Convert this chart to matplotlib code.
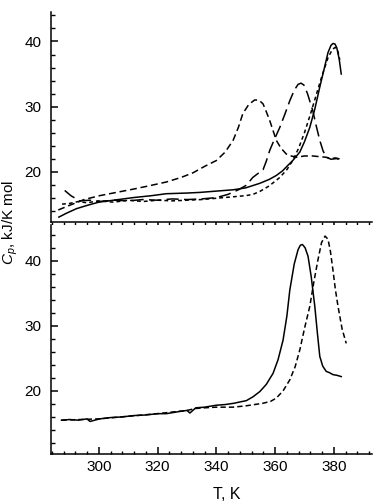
import matplotlib
matplotlib.use('Agg')
from matplotlib import pyplot as plt
from matplotlib.ticker import MultipleLocator

# top panel, solid curve
t_top_solid = [286.4, 289, 292.4, 296, 300, 305, 311.7, 318, 323, 330, 334.4, 340, 345.7, 350,
               354.8, 358, 360.4, 362.5, 364, 366, 368.4, 370, 371.8, 373.5, 375.2, 376.8, 378,
               379, 379.7, 380.4, 381, 381.8, 382.5]
cp_top_solid = [13.0, 13.6, 14.3, 14.8, 15.3, 15.6, 16.0, 16.3, 16.6, 16.7, 16.8, 17.0, 17.2, 17.5,
                18.2, 18.8, 19.4, 20.1, 20.8, 21.7, 23.0, 24.6, 26.8, 29.6, 33.0, 36.0, 38.3,
                39.4, 39.7, 39.6, 39.0, 37.3, 35.0]

# top panel, short dashes (follows the solid one up to the big peak)
t_top_short = [287.5, 290, 293, 296, 300, 305, 310, 315, 320, 325, 330, 335, 340, 345, 350, 352.5,
               355, 358, 361.6, 364, 366, 368, 370, 372, 374, 376, 378, 379.5, 380.5, 381.3, 382]
cp_top_short = [15.0, 15.1, 15.4, 15.2, 15.5, 15.3, 15.6, 15.4, 15.6, 15.5, 15.6, 15.7, 15.9, 16.1,
                16.3, 16.5, 17.0, 17.8, 19.1, 20.3, 21.7, 23.6, 26.0, 28.8, 31.8, 34.8, 37.5,
                38.8, 39.1, 38.6, 37.2]

# top panel, medium dashes (peak near 353 K)
t_top_mid = [286.2, 290, 295, 300.3, 306, 311.7, 317, 323, 328, 332, 336, 340, 343, 345.7, 347.5,
             349, 351, 353, 354.5, 355.9, 357, 358.2, 359.3, 360.4, 362, 363.8, 365.5, 367.2, 370,
             372.8, 375, 377.4, 379, 380.5, 382.5]
cp_top_mid = [14.1, 14.8, 15.7, 16.3, 16.8, 17.3, 17.8, 18.4, 19.1, 19.8, 20.8, 21.7, 23.0, 24.8,
              26.8, 28.9, 30.3, 31.0, 31.0, 30.4, 29.2, 27.8, 26.3, 24.8, 23.6, 22.7, 22.4, 22.2,
              22.4, 22.4, 22.3, 22.2, 22.0, 22.1, 21.9]

# top panel, long dashes (peak near 368 K)
t_top_long = [288.4, 290.5, 293.5, 297, 300, 305, 310, 315, 320, 325, 330, 335, 340, 344, 347.5,
              350.2, 352.4, 355.9, 357, 358.2, 359.8, 361.6, 363.3, 365, 366.5, 367.8, 368.8,
              369.8, 371, 372.8, 374, 375.2, 376.3, 377.4, 379, 381, 382.5]
cp_top_long = [17.1, 16.3, 15.5, 15.6, 15.4, 15.6, 15.5, 15.7, 15.6, 15.8, 15.7, 15.8, 16.0, 16.5,
               17.2, 17.9, 19.1, 20.3, 21.6, 23.3, 25.0, 26.8, 28.8, 30.9, 32.5, 33.4, 33.6, 33.3,
               32.0, 29.4, 27.0, 24.8, 23.2, 22.2, 21.9, 22.0, 21.7]

# bottom panel, solid curve
t_bot_solid = [287.3, 290, 293, 296, 297, 300.3, 304, 308, 311.7, 316, 320, 323, 327, 330, 331,
               333, 336, 340, 343, 346, 348, 350.2, 352.5, 354.8, 357, 359.3, 361, 362.7, 364, 365,
               366.5, 367.8, 368.6, 369.3, 370.2, 371.2, 372.3, 373.5, 374.4, 375.2, 376.2, 377.4,
               378.5, 379.7, 381, 382.5]
cp_bot_solid = [15.5, 15.6, 15.5, 15.7, 15.3, 15.7, 15.9, 16.0, 16.2, 16.3, 16.5, 16.5, 16.8, 17.0,
                16.6, 17.4, 17.5, 17.8, 17.9, 18.1, 18.3, 18.5, 19.1, 19.9, 21.0, 22.7, 24.8, 27.8,
                31.5, 35.5, 39.5, 41.7, 42.4, 42.5, 42.0, 40.7, 37.5, 33.0, 28.8, 25.3, 23.8, 23.0,
                22.8, 22.5, 22.4, 22.2]

# bottom panel, dashed curve
t_bot_dash = [287.3, 300, 320, 330, 333, 336, 340, 345.7, 350, 355.9, 358.5, 360.4, 362.7, 365,
              366.8, 368.4, 370, 371.8, 373.2, 374.6, 375.8, 377.0, 378.0, 378.8, 379.7, 380.5,
              381.4, 382.8, 384.2]
cp_bot_dash = [15.5, 15.7, 16.5, 17.0, 17.3, 17.4, 17.5, 17.5, 17.7, 18.1, 18.4, 18.9, 20.0, 21.7,
               23.7, 26.3, 29.6, 33.0, 36.8, 40.2, 42.8, 43.8, 43.3, 41.5, 38.5, 35.6, 33.0, 29.5,
               27.3]


def style_axes(ax, ylim, xdir):
    ax.set_xlim(283.7, 393)
    ax.set_ylim(*ylim)
    ax.spines['top'].set_visible(False)
    ax.spines['right'].set_visible(False)
    for s in ('left', 'bottom'):
        ax.spines[s].set_linewidth(1.1)
    ax.xaxis.set_major_locator(MultipleLocator(20))
    ax.xaxis.set_minor_locator(MultipleLocator(4))
    ax.yaxis.set_major_locator(MultipleLocator(10))
    ax.yaxis.set_minor_locator(MultipleLocator(2))
    ax.set_yticks([20, 30, 40])
    ax.tick_params(axis='y', which='major', direction='in', length=5, width=1.1,
                   labelsize=11, pad=7)
    ax.tick_params(axis='y', which='minor', direction='in', length=3, width=1)
    ax.tick_params(axis='x', which='major', direction=xdir, length=5, width=1.1,
                   labelsize=11, pad=4)
    ax.tick_params(axis='x', which='minor', direction=xdir, length=2.5, width=1)


def main():
    plt.rcParams['font.family'] = ['Liberation Sans', 'DejaVu Sans']
    plt.rcParams['mathtext.fontset'] = 'custom'
    plt.rcParams['mathtext.it'] = 'Liberation Sans:italic'
    plt.rcParams['mathtext.rm'] = 'Liberation Sans'

    fig = plt.figure(figsize=(3.77, 5.03), dpi=100)
    ax1 = fig.add_axes([0.135, 0.558, 0.852, 0.419])
    ax2 = fig.add_axes([0.135, 0.0974, 0.852, 0.4553])

    lw = 1.1
    ax1.plot(t_top_solid, cp_top_solid, color='black', lw=lw)
    ax1.plot(t_top_short, cp_top_short, color='black', lw=lw, dashes=(2.5, 2))
    ax1.plot(t_top_mid, cp_top_mid, color='black', lw=lw, dashes=(4.5, 2.5))
    ax1.plot(t_top_long, cp_top_long, color='black', lw=lw, dashes=(8, 3.5))

    ax2.plot(t_bot_dash, cp_bot_dash, color='black', lw=lw, dashes=(3.5, 2))
    ax2.plot(t_bot_solid, cp_bot_solid, color='black', lw=lw)

    style_axes(ax1, (12.2, 44.6), 'out')
    ax1.tick_params(axis='x', which='major', length=6.5)
    ax1.tick_params(axis='x', which='minor', length=3)
    ax1.tick_params(axis='x', labelbottom=False)
    style_axes(ax2, (10.3, 45.5), 'in')

    fig.text(0.028, 0.557, '$C_p$, kJ/K mol', rotation=90, ha='center', va='center',
             fontsize=11)
    fig.text(0.602, 0.016, 'T, K', ha='center', va='center', fontsize=11.5)

    plt.savefig('out.png', dpi=100)


main()
